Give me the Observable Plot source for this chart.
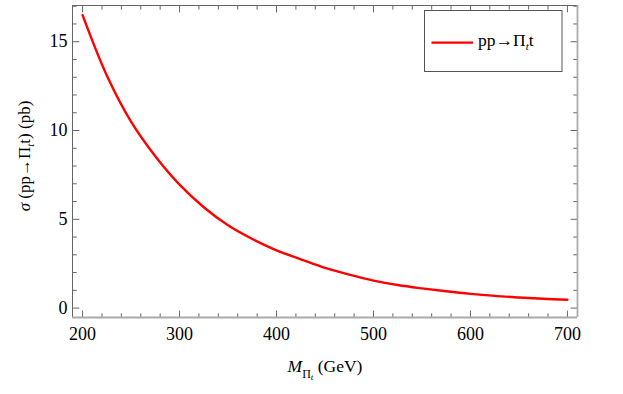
<!DOCTYPE html>
<html><head><meta charset="utf-8">
<script src="https://cdn.jsdelivr.net/npm/d3@7"></script>
<script src="https://cdn.jsdelivr.net/npm/@observablehq/plot@0.6"></script>
<style>
body{margin:0;background:#fff;}
#chart{position:relative;width:623px;height:394px;}
</style>
</head><body><div id="chart"></div>
<script>
// Data
const mass  = [200, 225, 250, 275, 300, 325, 350, 375, 400, 425, 450, 475, 500, 525, 550, 575, 600, 625, 650, 675, 700];
const sigma = [16.5, 13.1, 10.5, 8.55, 6.95, 5.68, 4.66, 3.89, 3.25, 2.75, 2.26, 1.88, 1.55, 1.30, 1.11, 0.945, 0.80, 0.685, 0.60, 0.525, 0.47];

const xMajor = [200, 300, 400, 500, 600, 700];
const xMinor = d3.range(200, 701, 20).filter(v => v % 100 !== 0);
const yMajor = [0, 5, 10, 15];
const yMinor = d3.range(0, 18, 1).filter(v => v % 5 !== 0);
const xDomain = [189.6, 710.4];
const yDomain = [-0.53, 17.04];

const legendLabel = "pp→Π";
const data = mass.map((m, i) => ({m, s: sigma[i]}));

const font = "Liberation Serif, Times New Roman, serif";
const tickShape = {draw(ctx, l) { ctx.moveTo(0, 0); ctx.lineTo(0, -l); }};
const tk = (vals, key, anchor, rotate, len) => Plot.vector(vals, {
  [key]: d => d, frameAnchor: anchor, rotate, length: len, anchor: "start",
  shape: tickShape, stroke: "#666", strokeWidth: 1
});

const chart = Plot.plot({
  width: 623, height: 394,
  marginLeft: 72, marginRight: 46, marginTop: 5, marginBottom: 77,
  style: `font-family: ${font}; font-size: 18px; color: #000; background: #fff;`,
  x: {domain: xDomain},
  y: {domain: yDomain},
  marks: [
    Plot.axisX(xMajor, {tickSize: 0, tickPadding: 10, label: null, fontSize: 18, fontFamily: font, fill: "#000"}),
    Plot.axisY(yMajor, {tickSize: 0, tickPadding: 5, label: null, fontSize: 18, fontFamily: font, fill: "#000"}),
    Plot.line(data, {x: "m", y: "s", stroke: "#ff0000", strokeWidth: 2.4, curve: "catmull-rom"}),
    tk(xMajor, "x", "bottom", 0, 6.5), tk(xMinor, "x", "bottom", 0, 3.8),
    tk(xMajor, "x", "top", 180, 6.5), tk(xMinor, "x", "top", 180, 3.8),
    tk(yMajor, "y", "left", 90, 6.5), tk(yMinor, "y", "left", 90, 3.8),
    tk(yMajor, "y", "right", -90, 6.5), tk(yMinor, "y", "right", -90, 3.8),
    Plot.ruleX([xDomain[0]], {stroke: "#666", strokeWidth: 1}),
    Plot.ruleY([yDomain[1]], {stroke: "#666", strokeWidth: 1}),
    Plot.ruleX([xDomain[1]], {stroke: "#aaa", strokeWidth: 1.8}),
    Plot.ruleY([yDomain[0]], {stroke: "#aaa", strokeWidth: 1.8})
  ]
});
document.getElementById("chart").appendChild(chart);

const svg = d3.select(chart);
// x label
const xl = svg.append("text").attr("x", 325).attr("y", 372).attr("text-anchor", "middle")
  .attr("font-family", font).attr("font-size", 17.5).attr("fill", "#000");
xl.append("tspan").attr("font-style", "italic").text("M");
xl.append("tspan").attr("font-size", 12).attr("dy", 6).text("Π");
xl.append("tspan").attr("font-size", 9).attr("font-style", "italic").attr("dy", 2).text("t");
xl.append("tspan").attr("font-size", 17.5).attr("dy", -8).text(" (GeV)");
// y label
const yl = svg.append("text").attr("transform", "translate(30,156) rotate(-90)").attr("text-anchor", "middle")
  .attr("font-family", font).attr("font-size", 17).attr("fill", "#000");
yl.append("tspan").attr("font-style", "italic").text("σ");
yl.append("tspan").text(" (pp→Π");
yl.append("tspan").attr("font-size", 11).attr("font-style", "italic").attr("dy", 4).text("t");
yl.append("tspan").attr("dy", -4).text("t) (pb)");
// legend
const lg = svg.append("g");
lg.append("rect").attr("x", 424.5).attr("y", 10.5).attr("width", 137.5).attr("height", 61)
  .attr("fill", "#fff").attr("stroke", "#555").attr("stroke-width", 1);
lg.append("line").attr("x1", 431.5).attr("x2", 473).attr("y1", 42.7).attr("y2", 42.7)
  .attr("stroke", "#ff0000").attr("stroke-width", 2.2);
const lt = lg.append("text").attr("x", 478).attr("y", 46).attr("text-anchor", "start")
  .attr("font-family", font).attr("font-size", 17.5).attr("fill", "#000");
lt.append("tspan").text(legendLabel);
lt.append("tspan").attr("font-size", 11).attr("font-style", "italic").attr("dy", 4).text("t");
lt.append("tspan").attr("dy", -4).text("t");
</script>
</body></html>
